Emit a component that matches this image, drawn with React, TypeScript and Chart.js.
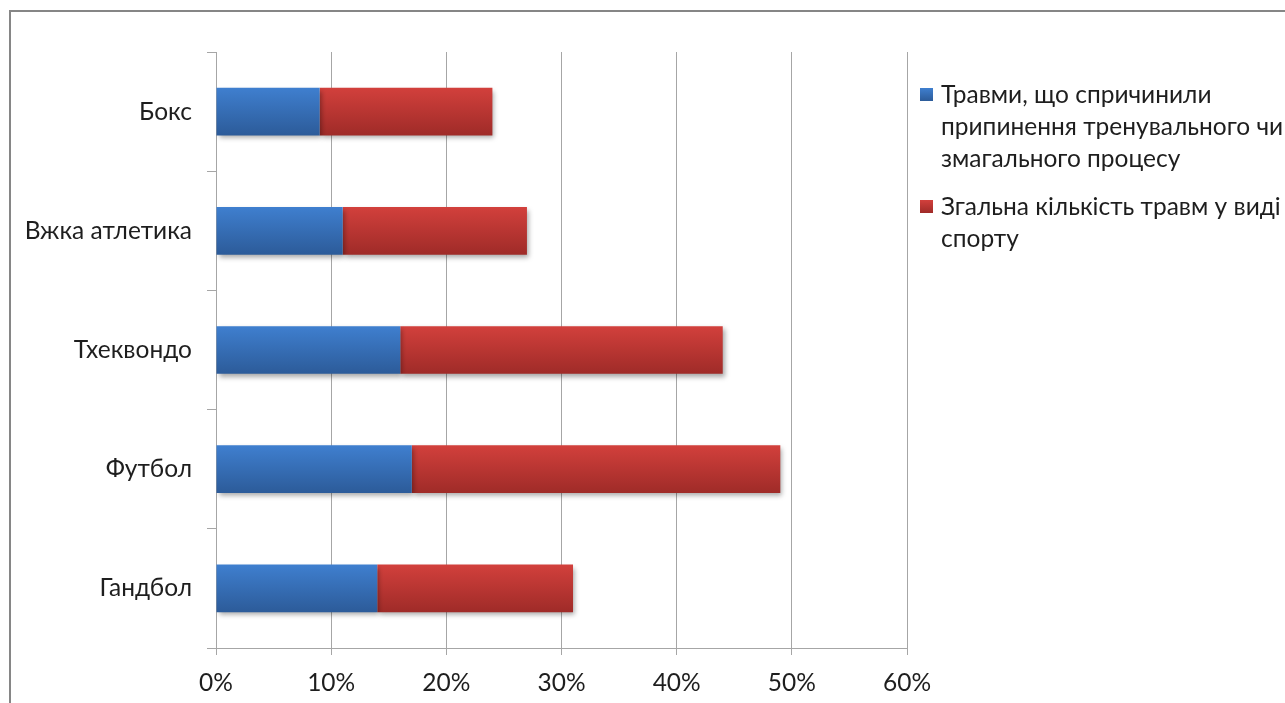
import React, { useEffect, useRef } from "react";
import { Chart, registerables } from "chart.js";

Chart.register(...registerables);

const categories = ["Бокс", "Вжка атлетика", "Тхеквондо", "Футбол", "Гандбол"];
const stoppedInjuries = [9, 11, 16, 17, 14];
const totalInjuriesSegment = [15, 16, 28, 32, 17];
const xTicks = [0, 10, 20, 30, 40, 50, 60];
const legendLabels = [
  ["Травми, що спричинили", "припинення  тренувального чи", "змагального процесу"],
  ["Згальна кількість травм у виді", "спорту"],
];

const FONT = "Lato, 'Open Sans', sans-serif";
const TEXT = "#1e1e1e";
const GRID = "#a6a6a6";
const BLUE = ["#3f7fcf", "#2c5b99"];
const RED = ["#d2403c", "#9f2b28"];
const BAR_PCT = 0.4;
const FS = 24.5;

function gradientFor(colors: string[]) {
  return (ctx: any) => {
    const chart = ctx.chart;
    const y = chart.scales?.y;
    if (!chart.chartArea || !y || ctx.dataIndex === undefined) return colors[0];
    const center = y.getPixelForValue(ctx.dataIndex);
    const band = (chart.chartArea.bottom - chart.chartArea.top) / categories.length;
    const half = (band * BAR_PCT) / 2;
    const g = chart.ctx.createLinearGradient(0, center - half, 0, center + half);
    g.addColorStop(0, colors[0]);
    g.addColorStop(1, colors[1]);
    return g;
  };
}

const shadowPlugin = {
  id: "barShadow",
  beforeDatasetsDraw(chart: any) {
    const c = chart.ctx;
    c.save();
    c.shadowColor = "rgba(0,0,0,0.35)";
    c.shadowBlur = 5;
    c.shadowOffsetX = 2;
    c.shadowOffsetY = 3;
  },
  afterDatasetsDraw(chart: any) {
    chart.ctx.restore();
  },
};

export default function App() {
  const ref = useRef<HTMLCanvasElement | null>(null);

  useEffect(() => {
    if (!ref.current) return;
    const chart = new Chart(ref.current, {
      type: "bar",
      data: {
        labels: categories,
        datasets: [
          {
            label: legendLabels[0].join(" "),
            data: stoppedInjuries,
            backgroundColor: gradientFor(BLUE),
            borderWidth: 0,
            categoryPercentage: 1,
            barPercentage: BAR_PCT,
          },
          {
            label: legendLabels[1].join(" "),
            data: totalInjuriesSegment,
            backgroundColor: gradientFor(RED),
            borderWidth: 0,
            categoryPercentage: 1,
            barPercentage: BAR_PCT,
          },
        ],
      },
      plugins: [shadowPlugin],
      options: {
        indexAxis: "y",
        animation: false,
        responsive: false,
        maintainAspectRatio: false,
        devicePixelRatio: 1,
        layout: { padding: { left: 0, top: 52, right: 378, bottom: 0 } },
        plugins: {
          legend: { display: false },
          tooltip: { enabled: false },
        },
        scales: {
          x: {
            type: "linear",
            stacked: true,
            min: 0,
            max: 60,
            afterBuildTicks: (scale: any) => {
              scale.ticks = xTicks.map((v) => ({ value: v }));
            },
            afterFit: (scale: any) => {
              scale.height = 55;
            },
            ticks: {
              callback: (v: any) => v + "%",
              color: TEXT,
              font: { family: FONT, size: FS },
              padding: 13,
              maxRotation: 0,
            },
            grid: {
              color: GRID,
              lineWidth: 1,
              tickLength: 7,
              drawOnChartArea: true,
            },
            border: { color: GRID, width: 1 },
          },
          y: {
            stacked: true,
            afterFit: (scale: any) => {
              scale.width = 216;
            },
            ticks: {
              color: TEXT,
              font: { family: FONT, size: FS },
              padding: 15,
            },
            grid: {
              color: GRID,
              lineWidth: 1,
              tickLength: 9,
              drawOnChartArea: false,
              offset: true,
            },
            border: { color: GRID, width: 1 },
          },
        },
      },
    });
    return () => chart.destroy();
  }, []);

  return (
    <div
      style={{
        position: "fixed",
        left: 0,
        top: 0,
        width: 1285,
        height: 703,
        overflow: "hidden",
        background: "#fff",
        fontFamily: FONT,
      }}
    >
      <div
        style={{
          position: "absolute",
          left: 9,
          top: 10,
          width: 1400,
          height: 800,
          border: "2px solid #868686",
        }}
      />
      <canvas
        ref={ref}
        width={1285}
        height={703}
        style={{ position: "absolute", left: 0, top: 0, width: 1285, height: 703 }}
      />
      {legendLabels.map((lines, i) => (
        <div
          key={i}
          style={{
            position: "absolute",
            left: 920,
            top: i === 0 ? 78 : 190,
            whiteSpace: "nowrap",
          }}
        >
          <div
            style={{
              position: "absolute",
              left: 0,
              top: 10,
              width: 13,
              height: 13,
              background: `linear-gradient(${i === 0 ? BLUE[0] : RED[0]}, ${i === 0 ? BLUE[1] : RED[1]})`,
            }}
          />
          <div
            style={{
              position: "absolute",
              left: 21,
              top: 0,
              fontSize: FS,
              lineHeight: "32px",
              color: TEXT,
            }}
          >
            {lines.map((l, j) => (
              <div key={j}>{l}</div>
            ))}
          </div>
        </div>
      ))}
    </div>
  );
}
